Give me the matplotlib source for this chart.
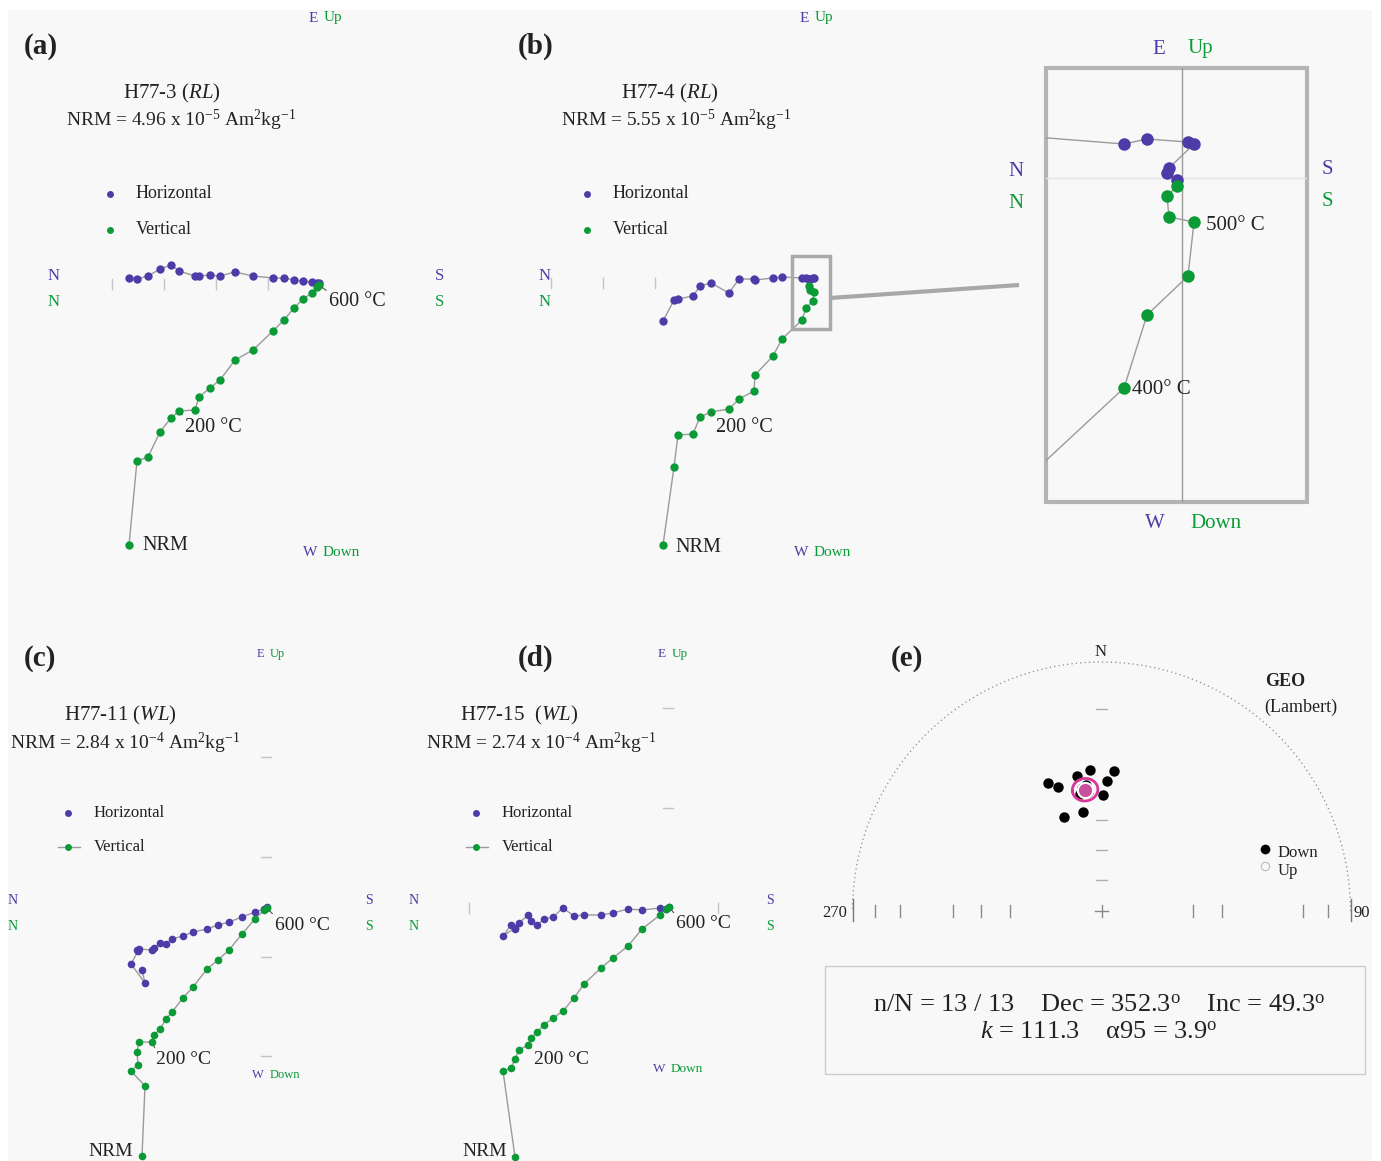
import numpy as np
import matplotlib
matplotlib.use('Agg')
import matplotlib.pyplot as plt
from matplotlib.patches import Rectangle

plt.rcParams['font.family'] = ['Liberation Serif', 'DejaVu Serif']
plt.rcParams['mathtext.fontset'] = 'custom'
plt.rcParams['mathtext.rm'] = 'Liberation Serif'
plt.rcParams['mathtext.it'] = 'Liberation Serif:italic'
plt.rcParams['mathtext.bf'] = 'Liberation Serif:bold'

# ---------------- data (arbitrary units, origin = axes crossing) ----------------
# Panel (a) H77-3 : N-S component (x), horizontal E-W (h), vertical Up-Down (v)
a_x = [-19.1, -18.3, -17.2, -16.0, -14.9, -14.1, -12.5, -12.1, -11.0, -10.0, -8.5, -6.7, -4.7, -3.6, -2.6, -1.7, -0.8, -0.3, -0.1]
a_h = [0.6, 0.5, 0.8, 1.5, 1.9, 1.3, 0.8, 0.8, 0.9, 0.8, 1.2, 0.8, 0.6, 0.6, 0.4, 0.3, 0.2, 0.1, 0.1]
a_v = [-26.1, -17.7, -17.3, -14.8, -13.4, -12.7, -12.6, -11.3, -10.4, -9.6, -7.6, -6.6, -4.7, -3.6, -2.4, -1.5, -0.9, -0.3, -0.1]

# Panel (b) H77-4
b_x = [-14.8, -13.7, -13.3, -11.8, -11.1, -10.0, -8.2, -7.2, -5.7, -5.6, -3.8, -2.9, -0.9, -0.5, 0.2, 0.3, -0.1, -0.2]
b_h = [-3.8, -1.7, -1.6, -1.3, -0.3, 0.0, -1.0, 0.4, 0.4, 0.3, 0.5, 0.6, 0.5, 0.5, 0.5, 0.5, 0.4, 0.4]
b_v = [-26.2, -18.4, -15.2, -15.1, -13.4, -12.9, -12.6, -11.6, -10.8, -9.2, -7.3, -5.6, -3.7, -2.5, -1.8, -0.9, -0.7, -0.3]

# Inset of (b), magnified near origin
inset_x = [-17.2, -5.8, -3.5, 0.6, 1.2, -1.3, -1.5, -0.5]
inset_h = [4.3, 3.4, 3.9, 3.6, 3.4, 1.0, 0.5, -0.2]
inset_v = [-31.6, -21.0, -13.7, -9.8, -4.4, -3.9, -1.8, -0.8]

# Panel (c) H77-11
c_x = [-12.4, -12.1, -13.5, -12.8, -12.9, -12.7, -11.4, -11.2, -10.6, -10.0, -9.4, -8.3, -7.3, -5.9, -4.8, -3.7, -2.4, -1.1, -0.2, 0.1]
c_h = [-6.2, -7.5, -5.6, -4.3, -4.2, -4.1, -4.2, -4.0, -3.5, -3.6, -3.1, -2.8, -2.4, -2.1, -1.7, -1.4, -0.9, -0.4, -0.1, 0.1]
c_v = [-24.8, -17.8, -16.3, -15.7, -14.4, -13.4, -13.4, -12.7, -12.1, -11.1, -10.4, -9.0, -7.9, -6.1, -5.2, -4.2, -2.6, -1.1, -0.2, 0.0]

# Panel (d) H77-15
d_x = [-15.3, -16.5, -15.7, -15.3, -14.9, -14.0, -13.7, -13.1, -12.4, -11.5, -10.5, -9.4, -8.4, -6.7, -5.5, -4.0, -2.6, -0.8, -0.2, 0.1]
d_h = [-2.0, -2.8, -1.7, -2.1, -1.5, -0.7, -1.3, -1.7, -1.1, -0.9, 0.0, -0.8, -0.7, -0.7, -0.5, -0.1, -0.2, 0.0, -0.1, 0.1]
d_v = [-24.9, -16.3, -16.0, -15.1, -14.2, -13.7, -13.0, -12.4, -11.7, -11.0, -10.3, -9.0, -7.6, -6.0, -5.0, -3.8, -2.1, -0.7, -0.1, 0.1]

# axis tick positions (same units)
a_xticks = [-20.8, -15.6, -10.4, -5.2]
b_xticks = [-26.0, -20.8, -15.6]
c_vticks = [15.1, 5.1, -4.9, -14.8]
d_vticks = [20.0, 10.0]
d_xticks = [-19.9, 5.0]

# Panel (e) site directions (geographic)
e_dec = [337.5, 340.8, 349.7, 355.3, 5.1, 2.4, 0.9, 349.6, 338.2, 353.5, 351.0, 353.0, 349.6]
e_inc = [43.5, 46.2, 44.0, 42.6, 42.9, 46.6, 51.5, 56.7, 56.7, 50.2, 48.6, 47.7, 50.5]
mean_dec, mean_inc, a95, kappa = 352.3, 49.3, 3.9, 111.3
n_used, n_total = 13, 13
e_ticks_left = [10, 20, 40, 50, 60]
e_ticks_right = [10, 20, 50, 60]
e_ticks_north = [20, 60, 70, 80]

# ---------------- style ----------------
W, H = 1381, 1161
BLUE = '#4b3ca8'
GREEN = '#0a9a36'
LINE = '#9a9a9a'
BG = '#f8f8f8'
TXT = '#222222'

fig = plt.figure(figsize=(W / 100, H / 100), dpi=100, facecolor='white')
lay = fig.add_axes([0, 0, 1, 1])
lay.set_xlim(0, W)
lay.set_ylim(H, 0)
lay.axis('off')
lay.add_patch(Rectangle((8, 10), 1364, 1151, facecolor=BG, edgecolor='none', zorder=0))


def T(x, y, s, **kw):
    kw.setdefault('ha', 'center')
    kw.setdefault('va', 'center')
    kw.setdefault('color', TXT)
    lay.text(x, y, s, **kw)


def panel_axes(box, origin, scale=10.0):
    x0, y0, x1, y1 = box
    ox, oy = origin
    ax = fig.add_axes([x0 / W, 1 - y1 / H, (x1 - x0) / W, (y1 - y0) / H])
    ax.set_xlim((x0 - ox) / scale, (x1 - ox) / scale)
    ax.set_ylim((oy - y1) / scale, (oy - y0) / scale)
    ax.set_facecolor('none')
    ax.axis('off')
    return ax


def zplot(ax, x, h, v, ms=6.0, lw=1.0):
    ax.plot(x, h, '-', color=LINE, lw=lw, zorder=1)
    ax.plot(x, v, '-', color=LINE, lw=lw, zorder=1)
    ax.plot(x, h, 'o', color=BLUE, ms=ms, mec='none', zorder=2)
    ax.plot(x, v, 'o', color=GREEN, ms=ms, mec='none', zorder=3)


def lab(ax, x, y, s, dx, dy, fs=14.5, leader=True, ha='left'):
    ap = None
    if leader:
        ap = dict(arrowstyle='-', color='#555555', lw=0.8, shrinkA=0, shrinkB=3,
                  relpos=(0.0, 1.0))
    ax.annotate(s, xy=(x, y), xytext=(dx, dy), textcoords='offset pixels',
                fontsize=fs, ha=ha, va='center', color=TXT, arrowprops=ap, zorder=5)


def hticks(ax, xs, half=0.5, color='#c4c4c4'):
    for t in xs:
        ax.plot([t, t], [-half, half], color=color, lw=1.0, zorder=0)


def vticks(ax, ys, half=0.5, color='#c4c4c4'):
    for t in ys:
        ax.plot([-half, half], [t, t], color=color, lw=1.0, zorder=0)


def axis_labels(e, w, n, s, fs=11, fs_ns=12):
    (ex, ey), (wx, wy) = e, w
    T(ex, ey, 'E', color=BLUE, fontsize=fs, ha='right')
    T(ex + 6, ey, 'Up', color=GREEN, fontsize=fs, ha='left')
    T(wx, wy, 'W', color=BLUE, fontsize=fs, ha='right')
    T(wx + 6, wy, 'Down', color=GREEN, fontsize=fs, ha='left')
    if n is not None:
        T(n[0], n[1], 'N', color=BLUE, fontsize=fs_ns)
        T(n[0], n[1] + 26, 'N', color=GREEN, fontsize=fs_ns)
    if s is not None:
        T(s[0], s[1], 'S', color=BLUE, fontsize=fs_ns)
        T(s[0], s[1] + 26, 'S', color=GREEN, fontsize=fs_ns)


def legend(x, y, dy, fs=13, line=False):
    lay.plot([x], [y], 'o', color=BLUE, ms=5, mec='none')
    if line:
        lay.plot([x - 10, x + 12], [y + dy, y + dy], '-', color=LINE, lw=1)
    lay.plot([x], [y + dy], 'o', color=GREEN, ms=5, mec='none')
    T(x + 26, y, 'Horizontal', fontsize=fs, ha='left')
    T(x + 26, y + dy, 'Vertical', fontsize=fs, ha='left')


def nrm_text(x, y, mant, expo):
    T(x, y, r'NRM = %s x 10$^{%s}$ Am$^{2}$kg$^{-1}$' % (mant, expo), fontsize=14, ha='left')


# ---------------- panel (a) ----------------
T(41, 46, '(a)', fontsize=21, fontweight='bold')
T(172, 93, r'H77-3 $\it{(RL)}$', fontsize=15)
nrm_text(66, 120, '4.96', '-5')
legend(110, 194, 36)
axis_labels((318, 18), (317, 553), (54, 276), (440, 276))
ax_a = panel_axes((0, 240, 470, 600), (320, 284))
hticks(ax_a, a_xticks)
zplot(ax_a, a_x, a_h, a_v)
lab(ax_a, a_x[-1], a_v[-1], '600 °C', 10, -17)
lab(ax_a, a_x[5], a_v[5], '200 °C', 6, -16)
lab(ax_a, a_x[0], a_v[0], 'NRM', 13, 0, leader=False)

# ---------------- panel (b) ----------------
T(536, 46, '(b)', fontsize=21, fontweight='bold')
T(670, 93, r'H77-4 $\it{(RL)}$', fontsize=15)
nrm_text(561, 120, '5.55', '-5')
legend(587, 194, 36)
axis_labels((809, 18), (808, 553), (545, 276), None)
ax_b = panel_axes((480, 240, 1000, 600), (811, 283))
hticks(ax_b, b_xticks)
zplot(ax_b, b_x, b_h, b_v)
lab(ax_b, b_x[5], b_v[5], '200 °C', 5, -15)
lab(ax_b, b_x[0], b_v[0], 'NRM', 12, -2, leader=False)
ax_b.add_patch(Rectangle((-1.9, -4.6), 3.8, 7.3, fill=False, edgecolor='#aaaaaa', lw=2.5, zorder=4))
lay.plot([830, 1019], [298, 285], color='#a8a8a8', lw=3, solid_capstyle='butt')

# ---------------- inset ----------------
ax_i = panel_axes((1046, 68, 1307, 502), (1182, 178))
ax_i.axvline(0, color='#9a9a9a', lw=1.0, zorder=0)
ax_i.axhline(0, color='#e2e2e2', lw=1.0, zorder=0)
zplot(ax_i, inset_x, inset_h, inset_v, ms=9, lw=1.0)
lab(ax_i, inset_x[4], inset_v[4], '500° C', 12, -4, fs=15, leader=False)
lab(ax_i, inset_x[1], inset_v[1], '400° C', 8, -2, fs=15, leader=False)
lay.add_patch(Rectangle((1046, 68), 261, 434, fill=False, edgecolor='#b4b4b4', lw=3, zorder=6))
T(1165, 49, 'E', color=BLUE, fontsize=15, ha='right')
T(1188, 49, 'Up', color=GREEN, fontsize=15, ha='left')
T(1165, 524, 'W', color=BLUE, fontsize=15, ha='right')
T(1190, 524, 'Down', color=GREEN, fontsize=15, ha='left')
T(1016, 172, 'N', color=BLUE, fontsize=15)
T(1016, 204, 'N', color=GREEN, fontsize=15)
T(1327, 170, 'S', color=BLUE, fontsize=15)
T(1327, 202, 'S', color=GREEN, fontsize=15)

# ---------------- panel (c) ----------------
T(40, 658, '(c)', fontsize=21, fontweight='bold')
T(120, 715, r'H77-11 $\it{(WL)}$', fontsize=15)
nrm_text(10, 743, '2.84', '-4')
legend(68, 813, 34, fs=12, line=True)
axis_labels((264, 654), (264, 1075), (13, 900), (369, 900), fs=9, fs_ns=10)
ax_c = panel_axes((0, 620, 400, 1161), (266, 908))
vticks(ax_c, c_vticks)
zplot(ax_c, c_x, c_h, c_v, ms=5.5)
lab(ax_c, c_x[-1], c_v[-1], '600 °C', 8, -17, fs=14)
lab(ax_c, c_x[6], c_v[6], '200 °C', 4, -17, fs=14)
lab(ax_c, c_x[0], c_v[0], 'NRM', -9, 5, fs=14, leader=False, ha='right')

# ---------------- panel (d) ----------------
T(536, 658, '(d)', fontsize=21, fontweight='bold')
T(519, 715, r'H77-15  $\it{(WL)}$', fontsize=15)
nrm_text(426, 743, '2.74', '-4')
legend(476, 813, 34, fs=12, line=True)
axis_labels((666, 654), (665, 1069), (414, 900), (770, 900), fs=9.5, fs_ns=10)
ax_d = panel_axes((400, 620, 800, 1161), (668, 908))
vticks(ax_d, d_vticks)
hticks(ax_d, d_xticks)
zplot(ax_d, d_x, d_h, d_v, ms=5.5)
lab(ax_d, d_x[-1], d_v[-1], '600 °C', 7, -17, fs=14)
lab(ax_d, d_x[5], d_v[5], '200 °C', 6, -14, fs=14)
lab(ax_d, d_x[0], d_v[0], 'NRM', -8, 5, fs=14, leader=False, ha='right')

# ---------------- panel (e) equal-area ----------------
T(907, 658, '(e)', fontsize=21, fontweight='bold')
R = 249.0
ax_e = panel_axes((820, 630, 1381, 960), (1101.5, 911), scale=R)


def ea(inc):
    return np.sqrt(2) * np.sin(np.radians(90 - np.asarray(inc, float)) / 2)


def proj(dec, inc):
    r = ea(inc)
    d = np.radians(np.asarray(dec, float))
    return r * np.sin(d), r * np.cos(d)


t = np.linspace(0, np.pi, 400)
ax_e.plot(np.cos(t), np.sin(t), color='#8a8a8a', lw=0.9, ls=(0, (1, 2.5)))
for inc in e_ticks_left:
    r = ea(inc)
    ax_e.plot([-r, -r], [-0.024, 0.024], color='#8a8a8a', lw=1)
for inc in e_ticks_right:
    r = ea(inc)
    ax_e.plot([r, r], [-0.024, 0.024], color='#8a8a8a', lw=1)
for inc in e_ticks_north:
    r = ea(inc)
    ax_e.plot([-0.022, 0.022], [r, r], color='#b0b0b0', lw=1)
ax_e.plot([-1, -1], [-0.04, 0.05], color='#777777', lw=1)
ax_e.plot([1, 1], [-0.04, 0.05], color='#777777', lw=1)
ax_e.plot([-0.025, 0.025], [0, 0], color='#888888', lw=1)
ax_e.plot([0, 0], [-0.025, 0.025], color='#888888', lw=1)

px, py = proj(e_dec, e_inc)
ax_e.plot(px, py, 'o', color='black', ms=7.5, mec='none', zorder=3)

# alpha95 circle around mean
md, mi = np.radians(mean_dec), np.radians(mean_inc)
m = np.array([np.cos(mi) * np.cos(md), np.cos(mi) * np.sin(md), np.sin(mi)])
u = np.cross(m, [0, 0, 1.0]); u /= np.linalg.norm(u)
v = np.cross(m, u)
phi = np.linspace(0, 2 * np.pi, 200)
a = np.radians(a95)
pts = np.cos(a) * m[:, None] + np.sin(a) * (np.cos(phi) * u[:, None] + np.sin(phi) * v[:, None])
cdec = np.degrees(np.arctan2(pts[1], pts[0]))
cinc = np.degrees(np.arcsin(pts[2]))
cx, cy = proj(cdec, cinc)
ax_e.plot(cx, cy, color='#d8379a', lw=2.0, zorder=4)
mx, my = proj([mean_dec], [mean_inc])
ax_e.plot(mx, my, 'o', color='#c84f9e', ms=11, mec='white', mew=1.5, zorder=5)

T(1101, 652, 'N', fontsize=12)
T(847, 913, '270', fontsize=12, ha='right')
T(1354, 913, '90', fontsize=12, ha='left')
T(1285, 682, 'GEO', fontsize=13, fontweight='bold')
T(1301, 707, '(Lambert)', fontsize=13)
lay.plot([1265], [849], 'o', color='black', ms=7, mec='none')
lay.plot([1265], [866], 'o', mfc='none', mec='#bbbbbb', ms=6, mew=0.8, ls='none')
T(1278, 853, 'Down', fontsize=12, ha='left')
T(1278, 871, 'Up', fontsize=12, ha='left')

lay.add_patch(Rectangle((825, 966), 540, 108, fill=False, edgecolor='#cccccc', lw=1))
T(1099, 1006, r'n/N = %d / %d    Dec = %.1f$^{\rm o}$    Inc = %.1f$^{\rm o}$'
  % (n_used, n_total, mean_dec, mean_inc), fontsize=19)
T(1099, 1033, r'$k$ = %.1f    α95 = %.1f$^{\rm o}$' % (kappa, a95), fontsize=19)

fig.savefig('out.png', dpi=100, facecolor='white')
